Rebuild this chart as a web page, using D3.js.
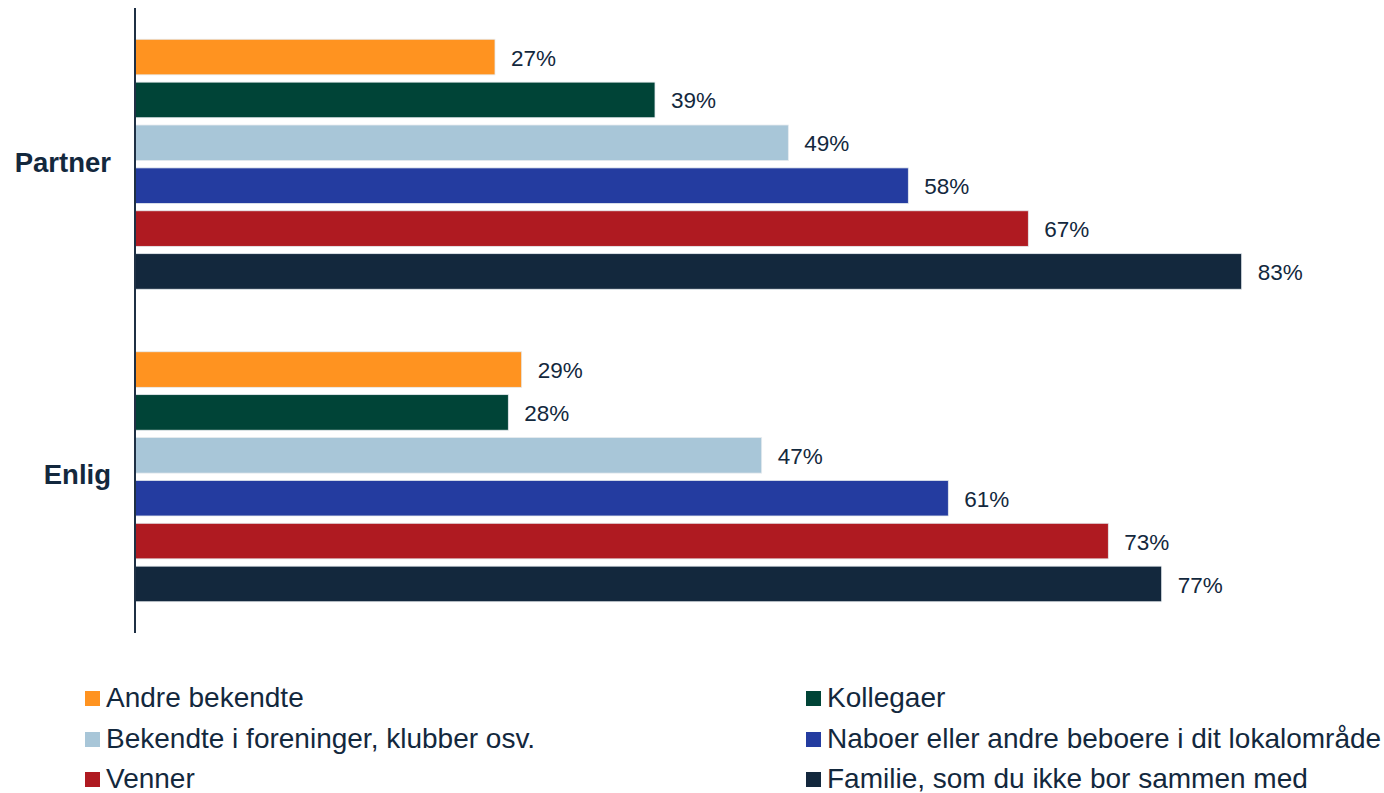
<!DOCTYPE html>
<html>
<head>
<meta charset="UTF-8">
<script src="https://cdn.jsdelivr.net/npm/d3@7"></script>
<style>
  body { margin: 0; background: #fff; }
  text { font-family: "Liberation Sans", Arial, sans-serif; fill: #13283d; }
</style>
</head>
<body>
<svg id="canvas"></svg>
<script>
  width = 1384;
  height = 793;

  groups = ["Partner", "Enlig"];
  series = ["Andre bekendte", "Kollegaer", "Bekendte i foreninger, klubber osv.",
            "Naboer eller andre beboere i dit lokalområde", "Venner",
            "Familie, som du ikke bor sammen med"];
  colors = ["#ff9320", "#004437", "#a8c6d8", "#243ca0", "#af1a21", "#13283d"];
  partnerValues = [27, 39, 49, 58, 67, 83];
  enligValues = [29, 28, 47, 61, 73, 77];

  data = groups.map((g, i) => ({
    group: g,
    values: (i === 0 ? partnerValues : enligValues).map((v, j) => ({ key: series[j], value: v, color: colors[j] }))
  }));

  canvas = d3.select("#canvas").attr("width", width).attr("height", height);

  x = d3.scaleLinear().domain([0, 90]).range([135, 1335]);
  y0 = d3.scaleBand().domain(groups).range([8, 633]).paddingInner(0.2).paddingOuter(0.1);
  y1 = d3.scaleBand().domain(series).range([0, y0.bandwidth()]).paddingInner(0.17).paddingOuter(0);

  g = canvas.selectAll("g.grp").data(data).enter().append("g")
      .attr("class", "grp")
      .attr("transform", d => "translate(0," + y0(d.group) + ")");

  g.selectAll("rect").data(d => d.values).enter().append("rect")
      .attr("x", x(0))
      .attr("y", d => y1(d.key))
      .attr("width", d => x(d.value) - x(0))
      .attr("height", y1.bandwidth())
      .attr("fill", d => d.color)
      .attr("stroke", "#e6ebef")
      .attr("stroke-width", 0.8);

  g.selectAll("text.val").data(d => d.values).enter().append("text")
      .attr("class", "val")
      .attr("x", d => x(d.value) + 16)
      .attr("y", d => y1(d.key) + y1.bandwidth() / 2)
      .attr("dy", "0.38em")
      .style("font-size", "22.5px")
      .text(d => d.value + "%");

  // y axis
  yAxis = d3.axisLeft(y0).tickSize(0).tickPadding(24);
  ax = canvas.append("g").attr("transform", "translate(" + x(0) + ",0)").call(yAxis);
  ax.select(".domain").attr("stroke", "#1f3044").attr("stroke-width", 2).attr("d", "M0,8V633");
  ax.selectAll("text")
      .attr("dy", "0.28em")
      .style("font-family", "Liberation Sans, Arial, sans-serif")
      .style("font-size", "27.5px").style("font-weight", "bold").attr("fill", "#13283d");

  // legend
  legendX = [85, 806];
  legendY = [707, 748, 788];
  leg = canvas.selectAll("g.leg").data(series).enter().append("g")
      .attr("class", "leg")
      .attr("transform", (d, i) => "translate(" + legendX[i % 2] + "," + legendY[Math.floor(i / 2)] + ")");
  leg.append("rect").attr("x", 0).attr("y", -16).attr("width", 15).attr("height", 15)
      .attr("fill", (d, i) => colors[i]);
  leg.append("text").attr("x", 21)
      .style("font-size", "28px")
      .text(d => d);
</script>
</body>
</html>
